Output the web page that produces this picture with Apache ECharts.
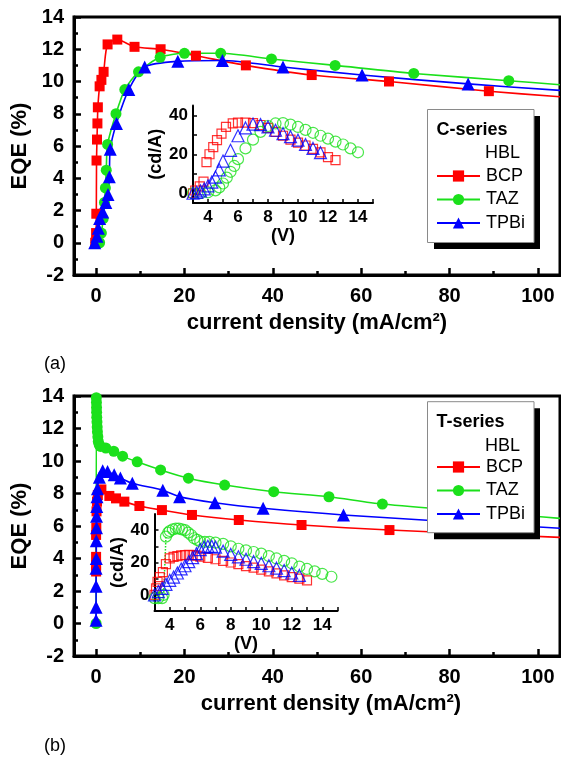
<!DOCTYPE html>
<html>
<head>
<meta charset="utf-8">
<title>EQE vs current density</title>
<script src="https://cdn.jsdelivr.net/npm/echarts@6/dist/echarts.min.js"></script>
<style>
html, body { margin: 0; padding: 0; background: #fff; }
#main { width: 561px; height: 757px; }
</style>
</head>
<body>
<div id="main"></div>
<script>
// ---- panel (a), C-series, main plot: current density (mA/cm2) vs EQE (%)
var bcpA_x  = [-0.2, 0, 0.05, 0.1, 0.2, 0.3, 0.4, 0.8, 1.2, 1.7, 2.6, 4.8, 8.7, 14.6, 22.6, 33.9, 48.8, 66.3, 88.9, 105];
var bcpA_y  = [0, 0.6, 1.8, 5.1, 6.4, 7.4, 8.4, 9.7, 10.1, 10.6, 12.3, 12.6, 12.15, 12.0, 11.6, 11.0, 10.4, 10.0, 9.4, 9.05];
var tazA_x  = [0.8, 1.2, 1.6, 1.9, 2.1, 2.3, 2.6, 4.5, 6.5, 9.6, 14.5, 20.0, 28.2, 39.7, 54.1, 71.9, 93.4, 105];
var tazA_y  = [0, 0.6, 1.5, 2.5, 3.4, 4.5, 6.1, 8.0, 9.5, 10.6, 11.5, 11.75, 11.75, 11.4, 11.0, 10.5, 10.05, 9.8];
var tpbiA_x = [-0.3, 0.2, 0.5, 0.8, 1.5, 2.2, 2.7, 3.0, 3.2, 4.6, 7.4, 11.0, 18.5, 28.6, 42.3, 60.2, 84.2, 105];
var tpbiA_y = [0, 0.4, 0.9, 1.5, 1.9, 2.5, 3.0, 4.1, 5.8, 7.4, 9.5, 10.9, 11.25, 11.3, 10.9, 10.4, 9.85, 9.45];

// ---- panel (a) inset: voltage (V) vs current efficiency (cd/A)
var bcpInA_v  = [3.0, 3.15, 3.45, 3.7, 3.9, 4.1, 4.35, 4.6, 4.9, 5.2, 5.65, 6.0, 6.5, 7.0, 7.5, 8.0, 8.5, 9.0, 9.5, 10.0, 10.5, 11.0, 11.5, 12.0, 12.5];
var bcpInA    = [0, 1.4, 3.5, 6, 16, 20, 23.7, 27.2, 30.6, 34, 35.8, 36.2, 36.2, 36, 35, 33.5, 31.5, 29.5, 27.5, 26, 24.5, 22.8, 21, 18.5, 17];
var tazInA_v  = [3.0, 3.5, 4.0, 4.5, 4.75, 5.0, 5.25, 5.5, 5.75, 6.0, 6.5, 7.0, 7.5, 8.0, 8.5, 9.0, 9.5, 10.0, 10.5, 11.0, 11.5, 12.0, 12.5, 13.0, 13.5, 14.0];
var tazInA    = [0, 0, 0.5, 1.5, 3, 5, 8, 11, 14, 17.5, 23, 27.5, 31.5, 34.5, 35.8, 36, 35.2, 34, 32.5, 31, 29.5, 28, 26.5, 25, 23, 21];
var tpbiInA_v = [3.0, 3.25, 3.5, 3.75, 4.0, 4.25, 4.5, 4.75, 5.0, 5.5, 6.0, 6.5, 7.0, 7.5, 8.0, 8.5, 9.0, 9.5, 10.0, 10.5, 11.0, 11.5];
var tpbiInA   = [0, 0.5, 1.2, 2.2, 3.8, 5.7, 8.3, 12, 16.5, 22, 29.5, 33.5, 35.5, 35.2, 34, 32.3, 30.6, 29, 27.2, 25, 23, 20.8];

// ---- panel (b), T-series, main plot
var bcpB_x  = [0, 0, 0, 0, 0.05, 0.1, 0.2, 0.4, 1.2, 3.0, 4.5, 6.4, 9.8, 14.9, 21.7, 32.3, 46.5, 66.4, 105];
var bcpB_y  = [3.2, 3.6, 4.1, 5.45, 5.9, 6.9, 7.5, 7.9, 8.25, 7.85, 7.7, 7.5, 7.23, 6.98, 6.68, 6.37, 6.06, 5.75, 5.3];
var tazB_x  = [0, 0.05, 0.08, 0.1, 0.12, 0.15, 0.2, 0.25, 0.3, 0.4, 0.5, 0.7, 1.0, 2.2, 4.0, 6.0, 9.3, 14.6, 20.9, 29.1, 40.2, 52.7, 64.8, 105];
var tazB_y  = [0, 13.9, 13.6, 13.3, 13.0, 12.7, 12.4, 12.1, 11.8, 11.5, 11.2, 11.0, 10.9, 10.8, 10.6, 10.3, 9.95, 9.45, 8.94, 8.52, 8.11, 7.8, 7.35, 6.47];
var tpbiB_x = [0, 0, 0, 0, 0.05, 0.05, 0.1, 0.1, 0.15, 0.2, 0.3, 0.75, 1.5, 2.6, 4.1, 5.5, 8.2, 15.1, 18.9, 26.9, 37.8, 56.0, 105];
var tpbiB_y = [0.2, 1.0, 2.3, 3.4, 4.0, 5.1, 5.9, 6.6, 7.2, 7.8, 8.3, 9.0, 9.4, 9.35, 9.15, 8.95, 8.63, 8.2, 7.8, 7.43, 7.09, 6.68, 5.86];

// ---- panel (b) inset
var bcpInB_v  = [3.0, 3.1, 3.2, 3.35, 3.55, 3.75, 4.0, 4.25, 4.5, 4.75, 5.0, 5.25, 5.5, 5.75, 6.0, 6.5, 7.0, 7.5, 8.0, 8.5, 9.0, 9.5, 10.0, 10.5, 11.0, 11.5, 12.0, 12.5, 13.0];
var bcpInB    = [0, 4, 8, 11, 14, 19, 22.5, 23.5, 24, 24.5, 24.6, 24.8, 24.6, 24.2, 23.6, 22.8, 22, 21, 20, 19, 17.8, 16.8, 15.6, 14.5, 13.3, 12, 11, 10, 9];
var tazInB_v  = [3.0, 3.25, 3.5, 3.6, 3.75, 3.9, 4.0, 4.2, 4.4, 4.6, 4.8, 5.0, 5.2, 5.4, 5.6, 5.8, 6.0, 6.3, 6.6, 7.0, 7.5, 8.0, 8.5, 9.0, 9.5, 10.0, 10.5, 11.0, 11.5, 12.0, 12.5, 13.0, 13.5, 14.0, 14.6];
var tazInB    = [-2, -2, -2, 0, 36, 38.5, 39.5, 40.5, 41, 41, 40.5, 40, 38.5, 37, 35, 34, 33, 32.8, 32.8, 32.3, 31.5, 30, 28.5, 27.5, 26.5, 25.5, 24, 22.5, 21, 19.5, 17.5, 16, 14.5, 13, 11.2];
var tpbiInB_v = [3.0, 3.25, 3.5, 3.75, 4.0, 4.25, 4.5, 4.75, 5.0, 5.25, 5.5, 5.75, 6.0, 6.25, 6.5, 6.75, 7.0, 7.5, 8.0, 8.5, 9.0, 9.5, 10.0, 10.5, 11.0, 11.5, 12.0, 12.5];
var tpbiInB   = [0, 2, 4, 6.5, 9, 11, 13.5, 16, 18, 20.5, 23, 25.5, 28, 29.5, 30, 30, 29.5, 27, 25, 23.5, 22, 20.5, 19.5, 18, 16.5, 15, 13.5, 12];

// ---- ticks / labels
var eqeTicks = [0, 20, 40, 60, 80, 100];
var eqeMinor = [10, 30, 50, 70, 90];
var voltLabels = [4, 6, 8, 10, 12, 14];
var cdaLabels = [0, 20, 40];
var cdaTicks = [0, 10, 20, 30, 40];
var hblNames = ['BCP', 'TAZ', 'TPBi'];

var RED = '#ff0000', GREEN = '#1be01b', BLUE = '#0000ff';
var FONT = '"Liberation Sans", Arial, Helvetica, sans-serif';

var myChart = echarts.init(document.getElementById('main'));

// pairs x/y arrays; the last point of a main curve only extends the line
function zip(xs, ys, lastBare) {
    var out = [];
    for (var i = 0; i < xs.length; i++) {
        if (lastBare && i === xs.length - 1) {
            out.push({value: [xs[i], ys[i]], symbol: 'none'});
        } else {
            out.push([xs[i], ys[i]]);
        }
    }
    return out;
}

function mainLine(name, xs, ys, color, symbol, size, xi, yi) {
    return {
        name: name,
        type: 'line',
        xAxisIndex: xi,
        yAxisIndex: yi,
        data: zip(xs, ys, true),
        smooth: 0.25,
        symbol: symbol,
        symbolSize: size,
        showAllSymbol: true,
        lineStyle: {color: color, width: 1.6},
        itemStyle: {color: color},
        z: 2
    };
}

function insetPts(name, vs, ys, color, symbol, size, xi, yi) {
    return {
        name: name,
        type: 'scatter',
        xAxisIndex: xi,
        yAxisIndex: yi,
        data: zip(vs, ys, false),
        symbol: symbol,
        symbolSize: size,
        itemStyle: {color: 'rgba(255,255,255,0)', borderColor: color, borderWidth: 1.2},
        z: 2
    };
}

function mainX(grid, nameShift) {
    return [{
        type: 'value', gridIndex: grid, min: -5, max: 105, position: 'bottom',
        name: 'current density (mA/cm²)', nameLocation: 'middle', nameGap: 37,
        nameTextStyle: {fontFamily: FONT, fontSize: 22, fontWeight: 'bold', color: '#000', padding: [0, 0, 0, nameShift]},
        axisLine: {onZero: false, lineStyle: {color: '#000', width: 3}},
        axisTick: {inside: true, length: 7, customValues: eqeTicks, lineStyle: {width: 2.5, color: '#000'}},
        axisLabel: {customValues: eqeTicks, margin: 11, fontFamily: FONT, fontSize: 20, fontWeight: 'bold', color: '#000'},
        splitLine: {show: false}
    }, {
        type: 'value', gridIndex: grid, min: -5, max: 105, position: 'bottom',
        axisLine: {show: false, onZero: false},
        axisTick: {inside: true, length: 4, customValues: eqeMinor, lineStyle: {width: 2.5, color: '#000'}},
        axisLabel: {show: false},
        splitLine: {show: false}
    }];
}

function mainY(grid) {
    return {
        type: 'value', gridIndex: grid, min: -2, max: 14, interval: 2,
        name: 'EQE (%)', nameLocation: 'middle', nameGap: 42,
        nameTextStyle: {fontFamily: FONT, fontSize: 22, fontWeight: 'bold', color: '#000'},
        axisLine: {onZero: false, lineStyle: {color: '#000', width: 3}},
        axisTick: {inside: true, length: 7, lineStyle: {width: 2.5, color: '#000'}},
        minorTick: {show: true, splitNumber: 2, length: 4, lineStyle: {width: 2.5, color: '#000'}},
        axisLabel: {margin: 10, fontFamily: FONT, fontSize: 20, fontWeight: 'bold', color: '#000'},
        splitLine: {show: false}
    };
}

function insetX(grid, gap) {
    return {
        type: 'value', gridIndex: grid, min: 3, max: 15, interval: 1, position: 'bottom',
        name: '(V)', nameLocation: 'middle', nameGap: gap,
        nameTextStyle: {fontFamily: FONT, fontSize: 18, fontWeight: 'bold', color: '#000'},
        axisLine: {onZero: false, lineStyle: {color: '#000', width: 2}},
        axisTick: {inside: true, length: 4, lineStyle: {width: 1.5, color: '#000'}},
        axisLabel: {customValues: voltLabels, margin: 6, fontFamily: FONT, fontSize: 17, fontWeight: 'bold', color: '#000'},
        splitLine: {show: false}
    };
}

function insetY(grid, lo, hi, gap) {
    return {
        type: 'value', gridIndex: grid, min: lo, max: hi,
        name: '(cd/A)', nameLocation: 'middle', nameGap: gap,
        nameTextStyle: {fontFamily: FONT, fontSize: 18, fontWeight: 'bold', color: '#000'},
        axisLine: {onZero: false, lineStyle: {color: '#000', width: 2}},
        axisTick: {inside: true, length: 4, customValues: cdaTicks, lineStyle: {width: 1.5, color: '#000'}},
        axisLabel: {customValues: cdaLabels, margin: 5, fontFamily: FONT, fontSize: 17, fontWeight: 'bold', color: '#000'},
        splitLine: {show: false}
    };
}

function legendFor(prefix, top) {
    return {
        data: hblNames.map(function (n) { return prefix + n; }),
        formatter: function (n) { return n.slice(prefix.length); },
        orient: 'vertical', left: 436, top: top,
        itemWidth: 43, itemHeight: 14, itemGap: 5.5, padding: 0,
        selectedMode: false, z: 8,
        textStyle: {fontFamily: FONT, fontSize: 18, color: '#000', padding: [0, 0, 0, 1]}
    };
}

function legendBox(top, h, title) {
    return [
        {type: 'rect', z: 5, shape: {x: 434, y: top + 6.5, width: 106, height: h}, style: {fill: '#000'}},
        {type: 'rect', z: 6, shape: {x: 427.5, y: top, width: 106.5, height: h}, style: {fill: '#fff', stroke: '#8a8a8a', lineWidth: 1}},
        {type: 'text', z: 7, x: 436.5, y: top + 20.5, style: {text: title, fontFamily: FONT, fontSize: 18, fontWeight: 'bold', fill: '#000', verticalAlign: 'middle'}},
        {type: 'text', z: 7, x: 485, y: top + 44, style: {text: 'HBL', fontFamily: FONT, fontSize: 18, fill: '#000', verticalAlign: 'middle'}}
    ];
}

var option = {
    animation: false,
    backgroundColor: '#fff',
    title: [
        {text: '(a)', left: 44, top: 355, padding: 0, textStyle: {fontFamily: FONT, fontSize: 18, fontWeight: 'normal', color: '#000'}},
        {text: '(b)', left: 44, top: 737, padding: 0, textStyle: {fontFamily: FONT, fontSize: 18, fontWeight: 'normal', color: '#000'}}
    ],
    grid: [
        {left: 74, top: 17, width: 486, height: 258, show: true, borderColor: '#000', borderWidth: 3, outerBoundsMode: 'none'},
        {left: 193, top: 105.5, width: 180, height: 97.5, outerBoundsMode: 'none'},
        {left: 74, top: 396, width: 486, height: 260, show: true, borderColor: '#000', borderWidth: 3, outerBoundsMode: 'none'},
        {left: 154.5, top: 514, width: 183, height: 97, outerBoundsMode: 'none'}
    ],
    xAxis: [].concat(mainX(0, 0), [insetX(1, 22)], mainX(2, 28), [insetX(3, 21)]),
    yAxis: [mainY(0), insetY(1, -5, 45, 26), mainY(2), insetY(3, -10, 50, 21)],
    legend: [legendFor('a-', 167), legendFor('b-', 458)],
    graphic: {elements: [].concat(legendBox(109.5, 133, 'C-series'), legendBox(401.7, 131, 'T-series'))},
    series: [
        mainLine('a-BCP', bcpA_x, bcpA_y, RED, 'rect', 10, 0, 0),
        mainLine('a-TAZ', tazA_x, tazA_y, GREEN, 'circle', 11, 0, 0),
        mainLine('a-TPBi', tpbiA_x, tpbiA_y, BLUE, 'triangle', 13, 0, 0),
        insetPts('a-in-BCP', bcpInA_v, bcpInA, RED, 'rect', 9, 2, 1),
        insetPts('a-in-TAZ', tazInA_v, tazInA, GREEN, 'circle', 11, 2, 1),
        insetPts('a-in-TPBi', tpbiInA_v, tpbiInA, BLUE, 'triangle', 12, 2, 1),
        mainLine('b-BCP', bcpB_x, bcpB_y, RED, 'rect', 10, 3, 2),
        mainLine('b-TAZ', tazB_x, tazB_y, GREEN, 'circle', 11, 3, 2),
        mainLine('b-TPBi', tpbiB_x, tpbiB_y, BLUE, 'triangle', 13, 3, 2),
        {
            // dotted jump of the TAZ trace at turn-on
            name: 'b-in-TAZ-rise', type: 'line', xAxisIndex: 5, yAxisIndex: 3,
            data: zip(tazInB_v.slice(2, 5), tazInB.slice(2, 5), false),
            symbol: 'none', lineStyle: {color: GREEN, width: 1.5, type: 'dotted'}, z: 2
        },
        insetPts('b-in-BCP', bcpInB_v, bcpInB, RED, 'rect', 9, 5, 3),
        insetPts('b-in-TAZ', tazInB_v, tazInB, GREEN, 'circle', 11, 5, 3),
        insetPts('b-in-TPBi', tpbiInB_v, tpbiInB, BLUE, 'triangle', 12, 5, 3)
    ]
};

myChart.setOption(option);
</script>
</body>
</html>
